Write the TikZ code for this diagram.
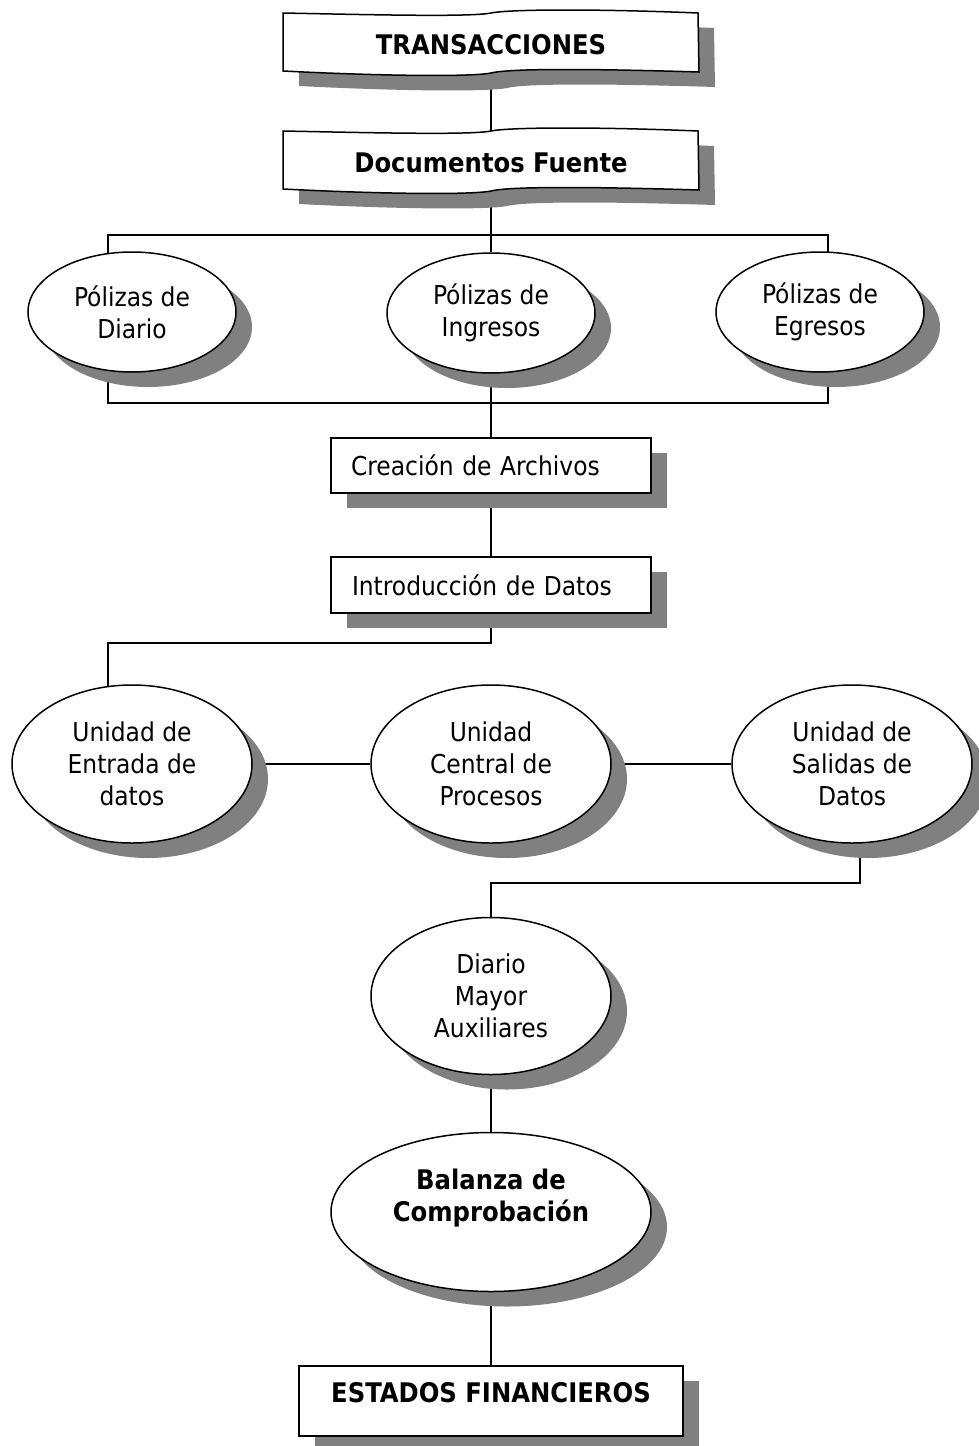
\documentclass[tikz,border=0pt]{standalone}
\usepackage{fontspec}
\setmainfont{DejaVu Sans Condensed}
\usetikzlibrary{shapes.geometric,shadows}
\definecolor{shadowgray}{HTML}{808080}
\pgfdeclarelayer{bg}
\pgfsetlayers{bg,main}
\tikzset{
  base/.style={font=\fontsize{26}{32}\selectfont, align=center, inner sep=0pt},
  boldtext/.style={base, font=\fontsize{27}{32}\selectfont\bfseries},
  shad/.style={drop shadow={shadow xshift=16pt, shadow yshift=-15pt, fill=shadowgray, opacity=1}},
  oval/.style={base, ellipse, draw, fill=white, line width=1.5pt, shad},
  boxn/.style={base, rectangle, draw, fill=white, line width=1.5pt, shad},
  bannertext/.style={boldtext, minimum width=415pt, minimum height=60pt},
  conn/.style={line width=1.5pt},
}
\newcommand{\wavebanner}[3]{%
  \path[#3, shift={(#1,#2)}] (-208,-31) .. controls (-110,-29) and (-20,-27) .. (0,-31)
     .. controls (20,-35) and (110,-35) .. (207,-31) -- (208,28)
     .. controls (110,25) and (20,24) .. (0,29)
     .. controls (-20,33) and (-110,32) .. (-208,27) -- cycle;}
\begin{document}
\begin{tikzpicture}[x=1pt,y=-1pt]
\useasboundingbox (0,0) rectangle (979,1446);
% banners
\wavebanner{507}{59}{fill=shadowgray}
\wavebanner{491}{44}{fill=white,draw=black,line width=1.5pt}
\wavebanner{507}{177}{fill=shadowgray}
\wavebanner{491}{162}{fill=white,draw=black,line width=1.5pt}
\node[bannertext] (trans) at (491,45) {TRANSACCIONES};
\node[bannertext] (docs) at (491,163) {Documentos Fuente};
% polizas
\node[oval, minimum width=208pt, minimum height=120pt] (pd) at (132,312) {Pólizas de\\Diario};
\node[oval, minimum width=208pt, minimum height=120pt] (pi) at (491,313) {Pólizas de\\Ingresos};
\node[oval, minimum width=208pt, minimum height=120pt] (pe) at (820,312) {Pólizas de\\Egresos};
% boxes
\node[boxn, minimum width=320pt, minimum height=55pt, text width=280pt, inner xsep=20pt, align=left] (ca) at (491,465.5) {Creación de Archivos};
\node[boxn, minimum width=320pt, minimum height=56pt, text width=278pt, inner xsep=21pt, align=left] (id) at (491,585) {Introducción de Datos};
% unidades
\node[oval, minimum width=240pt, minimum height=158pt] (ue) at (132,764) {Unidad de\\Entrada de\\datos};
\node[oval, minimum width=240pt, minimum height=158pt] (uc) at (491,764) {Unidad\\Central de\\Procesos};
\node[oval, minimum width=240pt, minimum height=158pt] (us) at (852,764) {Unidad de\\Salidas de\\Datos};
% diario mayor
\node[oval, minimum width=240pt, minimum height=157pt] (dm) at (491,996) {Diario\\Mayor\\Auxiliares};
% balanza
\node[oval, minimum width=320pt, minimum height=159pt] (bal) at (491,1212) {};
\node[boldtext] (baltxt) at (491,1198) {Balanza de\\Comprobación};
% estados
\node[boxn, minimum width=384pt, minimum height=70pt] (ef) at (491,1401) {};
\node[boldtext] (eftxt) at (491,1393) {ESTADOS FINANCIEROS};
% connectors
\coordinate (bt) at (491,235);
\coordinate (bb) at (491,403);
\coordinate (j1) at (491,643);
\coordinate (j2) at (491,883);
\begin{pgfonlayer}{bg}
\draw[conn] (trans) -- (docs);
\draw[conn] (docs) -- (pi);
\draw[conn] ([xshift=-24pt]pd.center) -- ([xshift=-24pt]pd.center |- bt) -- ([xshift=8pt]pe.center |- bt) -- ([xshift=8pt]pe.center);
\draw[conn] ([xshift=-24pt]pd.center) -- ([xshift=-24pt]pd.center |- bb) -- ([xshift=8pt]pe.center |- bb) -- ([xshift=8pt]pe.center);
\draw[conn] (pi) -- (ca);
\draw[conn] (ca) -- (id);
\draw[conn] (id.south) -- (j1) -- ([xshift=-24pt]ue.center |- j1) -- ([xshift=-24pt]ue.center);
\draw[conn] (ue) -- (uc);
\draw[conn] (uc) -- (us);
\draw[conn] ([xshift=8pt]us.center) -- ([xshift=8pt]us.center |- j2) -- (j2) -- (dm);
\draw[conn] (dm) -- (bal);
\draw[conn] (bal) -- (ef);
\end{pgfonlayer}
\end{tikzpicture}
\end{document}
